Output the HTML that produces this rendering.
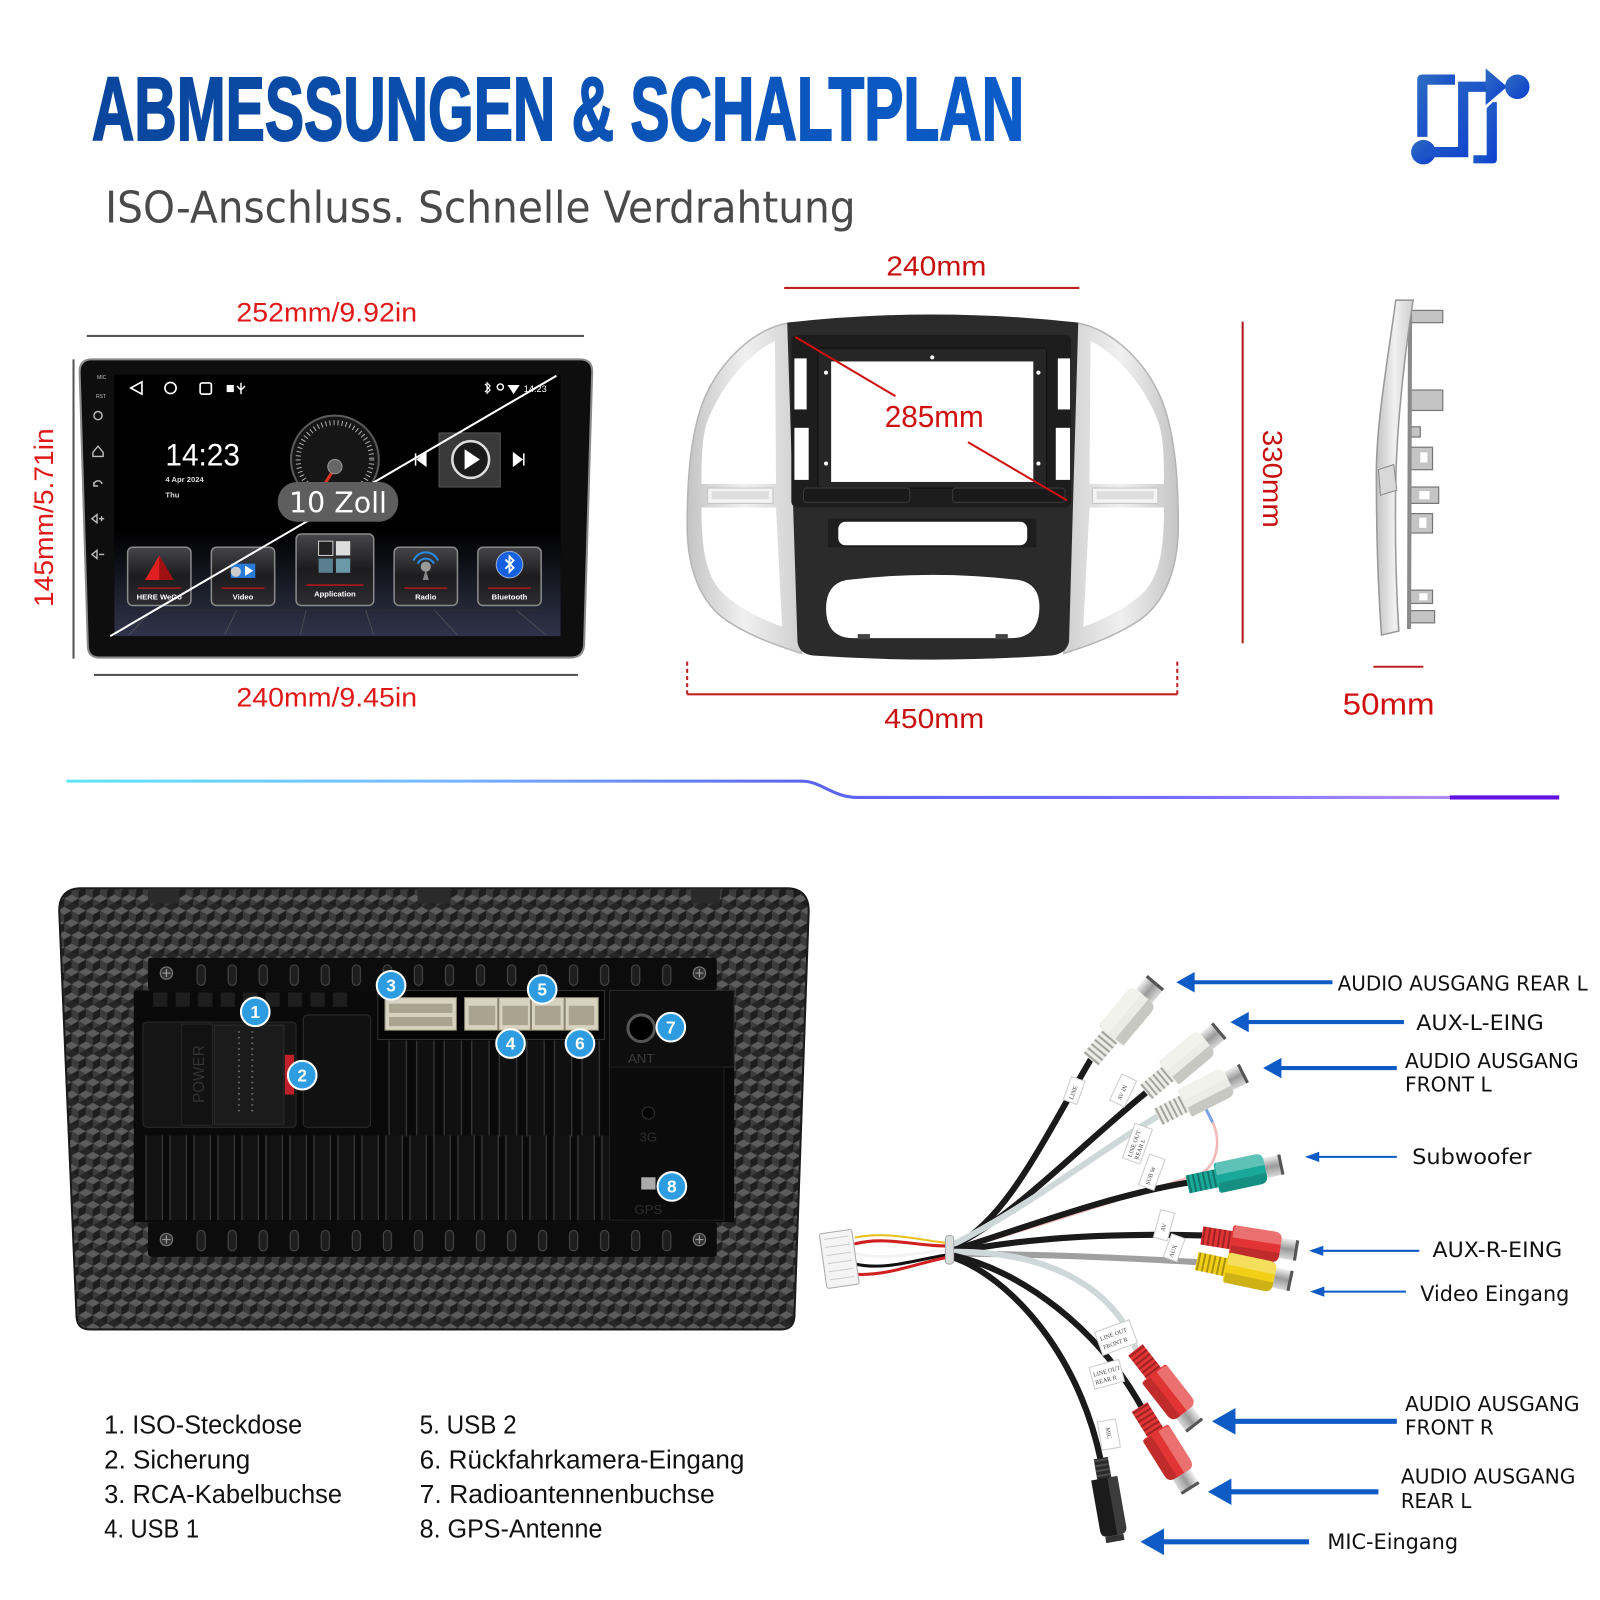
<!DOCTYPE html>
<html><head><meta charset="utf-8"><style>
html,body{margin:0;padding:0;background:#fff;}
svg{display:block;}
</style></head><body>
<svg xmlns="http://www.w3.org/2000/svg" xmlns:xlink="http://www.w3.org/1999/xlink" width="1600" height="1600" viewBox="0 0 1567 1567">
<defs>
 <linearGradient id="tg" x1="90" y1="0" x2="1003" y2="0" gradientUnits="userSpaceOnUse"><stop offset="0" stop-color="#0a469c"/><stop offset="1" stop-color="#0b5cc9"/></linearGradient>
 <linearGradient id="ig" x1="0" y1="0" x2="1" y2="1"><stop offset="0" stop-color="#2f6cc0"/><stop offset="1" stop-color="#0a3fd0"/></linearGradient>
 <linearGradient id="glow" x1="65" y1="0" x2="1527" y2="0" gradientUnits="userSpaceOnUse">
  <stop offset="0" stop-color="#5ee6f7"/><stop offset="0.25" stop-color="#78b8ff"/><stop offset="0.5" stop-color="#5a62f2"/><stop offset="0.75" stop-color="#7a6cff"/><stop offset="0.92" stop-color="#b08cff"/><stop offset="1" stop-color="#8a6aff"/></linearGradient>
 <linearGradient id="floor" x1="0" y1="0" x2="0" y2="1"><stop offset="0" stop-color="#000"/><stop offset="1" stop-color="#30344a"/></linearGradient>
 <linearGradient id="app" x1="0" y1="0" x2="0" y2="1"><stop offset="0" stop-color="#45454a"/><stop offset="0.5" stop-color="#1c1c1e"/><stop offset="1" stop-color="#2c2c32"/></linearGradient>
 <linearGradient id="metal" x1="0" y1="0" x2="0" y2="1"><stop offset="0" stop-color="#f0f0f0"/><stop offset="0.5" stop-color="#9a9a9a"/><stop offset="1" stop-color="#d8d8d8"/></linearGradient>
 <linearGradient id="silver" x1="0" y1="0" x2="1" y2="0"><stop offset="0" stop-color="#c4c4c4"/><stop offset="0.5" stop-color="#f0f0f0"/><stop offset="1" stop-color="#cfcfcf"/></linearGradient>
 <pattern id="cube" x="0" y="0" width="14" height="24" patternUnits="userSpaceOnUse">
  <rect width="14" height="24" fill="#262626"/>
  <path d="M7,0 L14,4 L7,8 L0,4Z" fill="#5c5c5c"/>
  <path d="M0,4 L7,8 L7,16 L0,12Z" fill="#3c3c3c"/>
  <path d="M14,4 L7,8 L7,16 L14,12Z" fill="#1e1e1e"/>
  <path d="M0,12 L7,16 L0,20Z" fill="#5c5c5c"/>
  <path d="M14,12 L7,16 L14,20Z" fill="#5c5c5c"/>
  <path d="M7,16 L7,24 L0,20Z" fill="#1e1e1e"/>
  <path d="M7,16 L7,24 L14,20Z" fill="#3c3c3c"/>
 </pattern>
 <pattern id="fins" x="140" y="0" width="23.5" height="300" patternUnits="userSpaceOnUse">
  <rect x="3" y="0" width="16" height="300" rx="6" fill="#121212" stroke="#3c3c3c" stroke-width="1.2"/>
 </pattern>
 <pattern id="finsM" x="377" y="0" width="27" height="300" patternUnits="userSpaceOnUse">
  <rect x="4" y="0" width="17" height="300" rx="6" fill="#101010" stroke="#383838" stroke-width="1.2"/>
 </pattern>
 <pattern id="slotsT" x="182" y="940" width="30.4" height="30" patternUnits="userSpaceOnUse">
  <rect x="11" y="5" width="8" height="20" rx="4" fill="#1e1e1e" stroke="#4a4a4a" stroke-width="1"/>
 </pattern>
 <pattern id="slotsB" x="182" y="1201" width="30.4" height="30" patternUnits="userSpaceOnUse">
  <rect x="11" y="4" width="8" height="20" rx="4" fill="#1e1e1e" stroke="#4a4a4a" stroke-width="1"/>
 </pattern>
 <g id="rca">
  <rect x="0" y="-9" width="34" height="18" fill="currentColor"/>
  <line x1="1" y1="0" x2="34" y2="0" stroke="#000" stroke-opacity="0.3" stroke-width="18" stroke-dasharray="2 3"/>
  <path d="M32,-15 L70,-15 Q78,-15 78,-7 L78,7 Q78,15 70,15 L32,15 Q29,15 29,12 L29,-12 Q29,-15 32,-15Z" fill="currentColor"/>
  <path d="M32,-15 L70,-15 Q78,-15 78,-7 L78,-3 L30,-3 L30,-12Z" fill="#fff" fill-opacity="0.3"/>
  <path d="M30,15 L70,15 Q78,15 78,7 L78,5 L30,5Z" fill="#000" fill-opacity="0.15"/>
  <rect x="78" y="-10" width="16" height="20" fill="url(#metal)"/>
  <rect x="92" y="-10" width="3" height="20" fill="#555"/>
 </g>
 <g id="jack">
  <rect x="0" y="-7" width="22" height="14" fill="#2a2a2a"/>
  <line x1="1" y1="0" x2="22" y2="0" stroke="#666" stroke-opacity="0.6" stroke-width="14" stroke-dasharray="2 3"/>
  <path d="M20,-13 L70,-13 Q77,-13 77,-6 L77,6 Q77,13 70,13 L20,13Z" fill="#1b1b1b"/>
  <path d="M20,-13 L70,-13 Q77,-13 77,-6 L77,-3 L20,-3Z" fill="#fff" fill-opacity="0.15"/>
  <rect x="77" y="-9" width="6" height="18" fill="#333"/>
 </g>
</defs>

<rect width="1567" height="1567" fill="#fff"/>

<!-- Title -->
<text x="90" y="137" font-family="Liberation Sans, Arial, sans-serif" font-weight="bold" font-size="88" fill="url(#tg)" stroke="url(#tg)" stroke-width="2" textLength="913" lengthAdjust="spacingAndGlyphs">ABMESSUNGEN &amp; SCHALTPLAN</text>
<text x="103" y="218" font-family="DejaVu Sans, Liberation Sans, sans-serif" font-size="43" fill="#4a4a4a" textLength="735" lengthAdjust="spacingAndGlyphs">ISO-Anschluss. Schnelle Verdrahtung</text>

<!-- icon -->
<g fill="url(#ig)">
 <path d="M1393,73 L1425,73 L1425,83 L1398,83 L1398,134 L1388,134 L1388,78 Q1388,73 1393,73Z"/>
 <circle cx="1394" cy="149" r="12"/>
 <path d="M1394,144 L1428,144 L1428,80 L1458,80 L1458,90 L1438,90 L1438,154 L1394,154Z"/>
 <path d="M1455,67 L1476,85 L1455,103Z"/>
 <circle cx="1486" cy="85" r="12"/>
 <path d="M1456,106 L1462,100 L1466,100 L1466,156 Q1466,160 1462,160 L1443,160 L1443,152 L1456,152Z"/>
</g>

<!-- ===== Device top-left ===== -->
<line x1="85" y1="329" x2="572" y2="329" stroke="#555" stroke-width="2"/>
<text x="320" y="315" text-anchor="middle" font-family="Liberation Sans, Arial, sans-serif" font-size="26" fill="#e01818" textLength="177" lengthAdjust="spacingAndGlyphs">252mm/9.92in</text>
<line x1="72" y1="352" x2="72" y2="645" stroke="#555" stroke-width="2"/>
<text transform="translate(52,507) rotate(-90)" text-anchor="middle" font-family="Liberation Sans, Arial, sans-serif" font-size="26" fill="#e01818" textLength="175" lengthAdjust="spacingAndGlyphs">145mm/5.71in</text>
<line x1="92" y1="661" x2="566" y2="661" stroke="#555" stroke-width="2"/>
<text x="320" y="692" text-anchor="middle" font-family="Liberation Sans, Arial, sans-serif" font-size="26" fill="#e01818" textLength="177" lengthAdjust="spacingAndGlyphs">240mm/9.45in</text>

<path d="M90,352 L568,352 Q580,352 580,364 L572,632 Q571,644 559,644 L97,644 Q86,644 86,632 L78,364 Q78,352 90,352Z" fill="#0e0e0e" stroke="#8a8a8a" stroke-width="2"/>
<rect x="112" y="367" width="437" height="256" fill="#000"/>
<rect x="112" y="520" width="437" height="103" fill="url(#floor)"/>
<!-- side buttons -->
<g fill="none" stroke="#bbb" stroke-width="1.4">
 <text x="95" y="371" font-family="Liberation Sans, sans-serif" font-size="5" fill="#bbb" stroke="none">MIC</text>
 <text x="94" y="390" font-family="Liberation Sans, sans-serif" font-size="5" fill="#bbb" stroke="none">RST</text>
 <circle cx="96" cy="407" r="4"/>
 <path d="M91,443 L96,437 L101,443 L101,447 L91,447Z"/>
 <path d="M100,474 A4,4 0 1 0 92,476 M92,472 L92,476 L96,476"/>
 <path d="M90,508 L95,504 L95,512Z M97,508 L102,508 M99.5,505.5 L99.5,510.5"/>
 <path d="M90,543 L95,539 L95,547Z M97,543 L102,543"/>
</g>
<!-- status bar -->
<g fill="none" stroke="#fff" stroke-width="1.6">
 <polygon points="139,374 128,380 139,386"/>
 <circle cx="167" cy="380" r="5.5"/>
 <rect x="196" y="375" width="11" height="11" rx="2"/>
</g>
<rect x="222" y="377" width="7" height="7" fill="#fff"/>
<path d="M236,375 L236,386 M232,378 L236,382 L240,378" stroke="#fff" stroke-width="1.4" fill="none"/>
<path d="M475,376 L480,382 L477,385 L477,375 L480,378 L475,384" stroke="#fff" stroke-width="1.1" fill="none"/>
<circle cx="490" cy="379" r="3" fill="none" stroke="#fff" stroke-width="1.4"/>
<path d="M497,377 L509,377 L503,386Z" fill="#fff"/>
<text x="513" y="384" font-family="Liberation Sans, sans-serif" font-size="9" fill="#fff">14:23</text>
<!-- clock -->
<text x="162" y="456" font-family="Liberation Sans, Arial, sans-serif" font-size="31" fill="#fff" textLength="73" lengthAdjust="spacingAndGlyphs">14:23</text>
<text x="162" y="472" font-family="Liberation Sans, sans-serif" font-size="7.5" font-weight="bold" fill="#ddd">4 Apr 2024</text>
<text x="162" y="487" font-family="Liberation Sans, sans-serif" font-size="7.5" font-weight="bold" fill="#ddd">Thu</text>
<!-- gauge -->
<circle cx="328" cy="450" r="43" fill="#161616" stroke="#5a5a5a" stroke-width="2"/>
<circle cx="328" cy="450" r="36" fill="none" stroke="#aaa" stroke-width="5" stroke-dasharray="1 3"/>
<line x1="328" y1="458" x2="318" y2="474" stroke="#e03020" stroke-width="3"/>
<circle cx="328" cy="457" r="7" fill="#666" stroke="#999"/>
<!-- media -->
<path d="M417,444 L409,450 L417,456Z M407,444 L407,456" fill="#fff" stroke="#fff" stroke-width="1.5"/>
<rect x="430" y="424" width="60" height="53" fill="#3a3a3a" stroke="#555"/>
<circle cx="461" cy="450" r="18" fill="#1a1a1a" stroke="#ddd" stroke-width="2.5"/>
<polygon points="455,440 470,450 455,460" fill="#fff"/>
<path d="M503,444 L511,450 L503,456Z M513,444 L513,456" fill="#fff" stroke="#fff" stroke-width="1.5"/>
<!-- apps -->
<g stroke="#8a8a8a" stroke-width="1.5" fill="url(#app)">
 <rect x="125" y="536" width="62" height="57" rx="5"/>
 <rect x="207" y="536" width="62" height="57" rx="5"/>
 <rect x="290" y="523" width="76" height="70" rx="5"/>
 <rect x="386" y="536" width="62" height="57" rx="5"/>
 <rect x="468" y="536" width="62" height="57" rx="5"/>
</g>
<polygon points="156,544 142,568 170,568" fill="#e02020"/>
<polygon points="156,544 156,568 170,568" fill="#a01010"/>
<rect x="226" y="552" width="24" height="14" fill="#2a7ad8"/>
<circle cx="231" cy="560" r="5" fill="#ccc"/>
<polygon points="240,554 248,559 240,564" fill="#fff"/>
<rect x="312" y="530" width="14" height="14" fill="#222" stroke="#ccc"/>
<rect x="329" y="530" width="14" height="14" fill="#ddd"/>
<rect x="312" y="547" width="14" height="14" fill="#5a8090"/>
<rect x="329" y="547" width="14" height="14" fill="#6a9aa8"/>
<path d="M409,552 A9,9 0 0 1 425,552 M405,549 A13,13 0 0 1 429,549" fill="none" stroke="#2a8ae0" stroke-width="2"/>
<circle cx="417" cy="555" r="5" fill="#999"/>
<path d="M417,558 L414,568 L420,568Z" fill="#888"/>
<circle cx="499" cy="553" r="13" fill="#1560e0" stroke="#9ac" stroke-width="1"/>
<path d="M495,548 L503,556 L499,560 L499,545 L503,549 L495,557" stroke="#fff" stroke-width="1.8" fill="none"/>
<g stroke="#b01818" stroke-width="1.5">
 <line x1="135" y1="576" x2="177" y2="576"/><line x1="217" y1="576" x2="259" y2="576"/>
 <line x1="300" y1="573" x2="356" y2="573"/><line x1="396" y1="576" x2="438" y2="576"/>
 <line x1="478" y1="576" x2="520" y2="576"/>
</g>
<g font-family="Liberation Sans, sans-serif" font-size="7.5" font-weight="bold" fill="#fff" text-anchor="middle">
 <text x="156" y="587">HERE WeGo</text><text x="238" y="587">Video</text><text x="328" y="584">Application</text>
 <text x="417" y="587">Radio</text><text x="499" y="587">Bluetooth</text>
</g>
<g stroke="#4a4a52" stroke-width="1">
 <line x1="150" y1="597" x2="126" y2="622"/><line x1="232" y1="597" x2="220" y2="622"/>
 <line x1="300" y1="597" x2="294" y2="622"/><line x1="358" y1="597" x2="366" y2="622"/>
 <line x1="425" y1="597" x2="448" y2="622"/><line x1="505" y1="597" x2="535" y2="622"/>
 <line x1="130" y1="598" x2="530" y2="598" stroke="#2c2c34"/>
</g>
<line x1="108" y1="623" x2="545" y2="368" stroke="#fff" stroke-width="2"/>
<rect x="272" y="472" width="118" height="39" rx="19" fill="#5e5e5e"/>
<text x="331" y="502" text-anchor="middle" font-family="DejaVu Sans, Liberation Sans, sans-serif" font-size="28" fill="#fff" textLength="96" lengthAdjust="spacingAndGlyphs">10 Zoll</text>

<!-- ===== Middle frame ===== -->
<text x="917" y="270" text-anchor="middle" font-family="Liberation Sans, Arial, sans-serif" font-size="27" fill="#c81010" textLength="98" lengthAdjust="spacingAndGlyphs">240mm</text>
<line x1="768" y1="282" x2="1057" y2="282" stroke="#c02020" stroke-width="2"/>

<g id="leftarm">
 <path d="M776,316 C745,318 705,350 688,395 C676,428 673,470 673,515 C673,560 688,592 712,608 C735,623 760,632 785,640 L785,316Z" fill="url(#silver)" stroke="#b5b5b5" stroke-width="1.5"/>
 <path d="M759,334 C735,345 705,378 692,415 C688,428 687,445 687,474 L760,474Z" fill="#fff"/>
 <path d="M687,497 L760,497 L766,614 C745,606 720,594 705,578 C692,562 687,540 687,497Z" fill="#fff"/>
 <rect x="693" y="478" width="64" height="15" fill="#f4f4f4" stroke="#c4c4c4"/>
 <rect x="697" y="481" width="56" height="8" fill="#dedede"/>
</g>
<use href="#leftarm" xlink:href="#leftarm" transform="matrix(-1,0,0,1,1827,0)"/>

<path d="M771,316 Q913,300 1056,316 L1047,628 Q1045,640 1030,642 Q913,650 796,642 Q782,640 781,628 Z" fill="#2b2b2b"/>
<rect x="775" y="328" width="274" height="169" rx="6" fill="#1d1d1d"/>
<rect x="801" y="341" width="224" height="137" rx="3" fill="#262626" stroke="#111"/>
<rect x="814" y="354" width="198" height="118" fill="#fff"/>
<g fill="#fff"><circle cx="809" cy="365" r="2"/><circle cx="1017" cy="365" r="2"/><circle cx="809" cy="454" r="2"/><circle cx="1017" cy="454" r="2"/><circle cx="913" cy="350" r="2"/>
 <rect x="778" y="351" width="12" height="50"/><rect x="778" y="419" width="14" height="51"/>
 <rect x="1036" y="351" width="12" height="50"/><rect x="1034" y="419" width="14" height="51"/></g>
<rect x="787" y="478" width="104" height="14" rx="3" fill="#1a1a1a" stroke="#3a3a3a"/>
<rect x="933" y="478" width="110" height="14" rx="3" fill="#1a1a1a" stroke="#3a3a3a"/>
<rect x="811" y="508" width="204" height="28" fill="#1e1e1e"/>
<rect x="821" y="511" width="185" height="23" rx="7" fill="#fff"/>
<path d="M829,568 Q913,558 998,568 Q1018,572 1018,594 Q1018,625 990,625 L836,625 Q809,625 809,596 Q809,572 829,568Z" fill="#fff"/>
<rect x="840" y="621" width="12" height="5" fill="#444"/><rect x="975" y="621" width="12" height="5" fill="#444"/>
<line x1="779" y1="330" x2="877" y2="388" stroke="#d01010" stroke-width="2"/>
<line x1="948" y1="433" x2="1045" y2="490" stroke="#d01010" stroke-width="2"/>
<text x="915" y="418" text-anchor="middle" font-family="Liberation Sans, Arial, sans-serif" font-size="30" fill="#d01010" textLength="97" lengthAdjust="spacingAndGlyphs">285mm</text>

<line x1="673" y1="648" x2="673" y2="680" stroke="#c02020" stroke-width="2" stroke-dasharray="4 3"/>
<line x1="1153" y1="648" x2="1153" y2="680" stroke="#c02020" stroke-width="2" stroke-dasharray="4 3"/>
<line x1="673" y1="680" x2="1153" y2="680" stroke="#c02020" stroke-width="2"/>
<text x="915" y="713" text-anchor="middle" font-family="Liberation Sans, Arial, sans-serif" font-size="27" fill="#c81010" textLength="98" lengthAdjust="spacingAndGlyphs">450mm</text>

<line x1="1217" y1="315" x2="1217" y2="630" stroke="#b01818" stroke-width="2"/>
<text transform="translate(1237,469) rotate(90)" text-anchor="middle" font-family="Liberation Sans, Arial, sans-serif" font-size="27" fill="#c81010" textLength="96" lengthAdjust="spacingAndGlyphs">330mm</text>

<!-- side view -->
<g stroke="#777" stroke-width="1.2" fill="#c4c4c4">
 <rect x="1381" y="304" width="32" height="12"/><rect x="1381" y="382" width="32" height="20"/>
 <rect x="1381" y="418" width="10" height="10"/><rect x="1381" y="438" width="22" height="22"/>
 <rect x="1381" y="477" width="28" height="16"/><rect x="1381" y="503" width="22" height="19"/>
 <rect x="1381" y="578" width="22" height="13"/><rect x="1381" y="598" width="24" height="12"/>
</g>
<g fill="#fff"><rect x="1391" y="443" width="7" height="10"/><rect x="1390" y="481" width="10" height="8"/><rect x="1390" y="507" width="7" height="10"/><rect x="1390" y="581" width="8" height="7"/></g>
<line x1="1381" y1="298" x2="1380" y2="616" stroke="#8a8a8a" stroke-width="4"/>
<path d="M1367,294 C1358,360 1347,420 1348,470 C1348,530 1350,580 1353,622 L1370,618 C1367,570 1366,520 1367,470 C1368,420 1375,350 1384,294 Z" fill="url(#silver)" stroke="#999" stroke-width="1.5"/>
<path d="M1350,460 L1365,455 L1368,480 L1352,485Z" fill="#d8d8d8" stroke="#888"/>
<line x1="1345" y1="653" x2="1394" y2="653" stroke="#c02020" stroke-width="2"/>
<text x="1360" y="700" text-anchor="middle" font-family="Liberation Sans, Arial, sans-serif" font-size="30" fill="#d01010" textLength="90" lengthAdjust="spacingAndGlyphs">50mm</text>

<!-- gradient divider -->
<path d="M65,765 L785,765 C805,765 815,781 840,781 L1527,781" fill="none" stroke="url(#glow)" stroke-width="3"/>
<line x1="1420" y1="781" x2="1527" y2="781" stroke="#6010e0" stroke-width="4"/>

<!-- ===== Back panel ===== -->
<path d="M80,870 L770,870 Q792,870 792,892 L778,1290 Q777,1302 765,1302 L88,1302 Q76,1302 75,1290 L58,892 Q58,870 80,870Z" fill="url(#cube)" stroke="#1a1a1a" stroke-width="2"/>
<g fill="#2a2a2a"><rect x="145" y="870" width="30" height="15"/><rect x="409" y="870" width="32" height="15"/><rect x="677" y="870" width="28" height="15"/></g>
<rect x="145" y="938" width="557" height="32" rx="3" fill="#0c0c0c"/>
<rect x="182" y="940" width="487" height="30" fill="url(#slotsT)"/>
<rect x="131" y="970" width="588" height="227" fill="#0a0a0a"/>
<rect x="145" y="1197" width="557" height="34" rx="3" fill="#0c0c0c"/>
<rect x="182" y="1201" width="487" height="30" fill="url(#slotsB)"/>
<g fill="#333" stroke="#777" stroke-width="1.2">
 <circle cx="163" cy="953" r="6"/><circle cx="685" cy="953" r="6"/><circle cx="163" cy="1214" r="6"/><circle cx="685" cy="1214" r="6"/>
</g>
<g stroke="#999" stroke-width="1.2">
 <path d="M159,953 L167,953 M163,949 L163,957 M681,953 L689,953 M685,949 L685,957 M159,1214 L167,1214 M163,1210 L163,1218 M681,1214 L689,1214 M685,1210 L685,1218"/>
</g>
<!-- ridges above iso -->
<g fill="#1e1e1e"><rect x="150" y="972" width="14" height="14"/><rect x="172" y="972" width="14" height="14"/><rect x="194" y="972" width="14" height="14"/><rect x="216" y="972" width="14" height="14"/><rect x="238" y="972" width="14" height="14"/><rect x="260" y="972" width="14" height="14"/><rect x="282" y="972" width="14" height="14"/><rect x="304" y="972" width="14" height="14"/><rect x="326" y="972" width="14" height="14"/></g>
<!-- ISO socket -->
<rect x="140" y="1001" width="150" height="103" rx="4" fill="#151515" stroke="#2c2c2c"/>
<rect x="178" y="1003" width="30" height="99" fill="#121212" stroke="#262626"/>
<text transform="translate(200,1052) rotate(-90)" text-anchor="middle" font-family="Liberation Sans, sans-serif" font-size="15" fill="#333">POWER</text>
<rect x="210" y="1004" width="68" height="97" fill="#1b1b1b" stroke="#2c2c2c"/>
<line x1="234" y1="1010" x2="234" y2="1092" stroke="#666" stroke-width="2" stroke-dasharray="1.5 4"/>
<line x1="247" y1="1010" x2="247" y2="1092" stroke="#666" stroke-width="2" stroke-dasharray="1.5 4"/>
<rect x="279" y="1033" width="9" height="39" fill="#c0202a"/>
<rect x="297" y="994" width="66" height="110" rx="4" fill="#111" stroke="#2c2c2c"/>
<!-- fins -->
<rect x="377" y="1019" width="215" height="94" fill="url(#finsM)"/>
<rect x="140" y="1112" width="457" height="83" fill="url(#fins)"/>
<!-- connectors -->
<rect x="370" y="970" width="222" height="48" fill="#050505" stroke="#333"/>
<rect x="377" y="977" width="70" height="32" fill="#d8d2c0" stroke="#8a8470"/>
<rect x="381" y="983" width="62" height="9" fill="#a9a390"/><rect x="381" y="996" width="62" height="9" fill="#a9a390"/>
<rect x="455" y="977" width="131" height="32" fill="#d8d2c0" stroke="#8a8470"/>
<g fill="#a9a390"><rect x="459" y="985" width="26" height="19"/><rect x="492" y="985" width="25" height="19"/><rect x="524" y="985" width="25" height="19"/><rect x="557" y="985" width="25" height="19"/></g>
<g stroke="#8a8470" stroke-width="2"><line x1="488" y1="977" x2="488" y2="1009"/><line x1="520" y1="977" x2="520" y2="1009"/><line x1="553" y1="977" x2="553" y2="1009"/></g>
<!-- ANT / GPS -->
<rect x="597" y="970" width="122" height="75" fill="#0e0e0e" stroke="#2a2a2a"/>
<circle cx="628" cy="1007" r="13" fill="#000" stroke="#555" stroke-width="3"/>
<text x="628" y="1041" text-anchor="middle" font-family="Liberation Sans, sans-serif" font-size="13" fill="#3a3a3a">ANT</text>
<rect x="597" y="1045" width="112" height="150" fill="#0b0b0b" stroke="#222"/>
<circle cx="635" cy="1090" r="6" fill="#000" stroke="#333"/>
<text x="635" y="1118" text-anchor="middle" font-family="Liberation Sans, sans-serif" font-size="13" fill="#2e2e2e">3G</text>
<rect x="628" y="1153" width="14" height="12" fill="#aaa"/>
<text x="635" y="1189" text-anchor="middle" font-family="Liberation Sans, sans-serif" font-size="13" fill="#2e2e2e">GPS</text>
<!-- badges -->
<g font-family="Liberation Sans, Arial, sans-serif" font-size="17" font-weight="bold" fill="#fff" text-anchor="middle">
 <circle cx="250" cy="991" r="14" fill="#2e9ce0" stroke="#fff" stroke-width="2"/><text x="250" y="997">1</text>
 <circle cx="296" cy="1053" r="14" fill="#2e9ce0" stroke="#fff" stroke-width="2"/><text x="296" y="1059">2</text>
 <circle cx="383" cy="965" r="14" fill="#2e9ce0" stroke="#fff" stroke-width="2"/><text x="383" y="971">3</text>
 <circle cx="500" cy="1022" r="14" fill="#2e9ce0" stroke="#fff" stroke-width="2"/><text x="500" y="1028">4</text>
 <circle cx="531" cy="969" r="14" fill="#2e9ce0" stroke="#fff" stroke-width="2"/><text x="531" y="975">5</text>
 <circle cx="568" cy="1022" r="14" fill="#2e9ce0" stroke="#fff" stroke-width="2"/><text x="568" y="1028">6</text>
 <circle cx="657" cy="1006" r="14" fill="#2e9ce0" stroke="#fff" stroke-width="2"/><text x="657" y="1012">7</text>
 <circle cx="658" cy="1162" r="14" fill="#2e9ce0" stroke="#fff" stroke-width="2"/><text x="658" y="1168">8</text>
</g>

<!-- Legend -->
<g font-family="Liberation Sans, Arial, sans-serif" font-size="25" fill="#111">
 <text x="102" y="1404" textLength="194" lengthAdjust="spacingAndGlyphs">1. ISO-Steckdose</text>
 <text x="102" y="1438" textLength="143" lengthAdjust="spacingAndGlyphs">2. Sicherung</text>
 <text x="102" y="1472" textLength="233" lengthAdjust="spacingAndGlyphs">3. RCA-Kabelbuchse</text>
 <text x="102" y="1506" textLength="93" lengthAdjust="spacingAndGlyphs">4. USB 1</text>
 <text x="411" y="1404" textLength="95" lengthAdjust="spacingAndGlyphs">5. USB 2</text>
 <text x="411" y="1438" textLength="318" lengthAdjust="spacingAndGlyphs">6. Rückfahrkamera-Eingang</text>
 <text x="411" y="1472" textLength="289" lengthAdjust="spacingAndGlyphs">7. Radioantennenbuchse</text>
 <text x="411" y="1506" textLength="179" lengthAdjust="spacingAndGlyphs">8. GPS-Antenne</text>
</g>

<!-- ===== Harness ===== -->
<g fill="none" stroke-linecap="round">
 <path d="M838,1218 C870,1210 900,1222 935,1220" stroke="#d02020" stroke-width="3"/>
 <path d="M838,1228 C870,1235 900,1226 935,1224" stroke="#f4f4f4" stroke-width="3"/>
 <path d="M838,1238 C870,1245 900,1232 935,1228" stroke="#111" stroke-width="3"/>
 <path d="M838,1248 C870,1250 900,1236 935,1230" stroke="#d02020" stroke-width="3"/>
 <path d="M838,1212 C870,1205 905,1216 935,1218" stroke="#e8c020" stroke-width="2"/>
 <path d="M935,1220 C985,1195 1020,1120 1068,1038" stroke="#1a1a1a" stroke-width="6"/>
 <path d="M935,1220 C995,1190 1060,1120 1125,1068" stroke="#1a1a1a" stroke-width="6"/>
 <path d="M935,1218 C1010,1180 1080,1125 1136,1092" stroke="#cfd8d8" stroke-width="6"/>
 <path d="M935,1225 C1020,1200 1110,1170 1175,1150 C1195,1140 1195,1112 1187,1098" stroke="#f0b8b8" stroke-width="2.5"/>
 <path d="M1187,1098 L1180,1084" stroke="#7aa0e0" stroke-width="3"/>
 <path d="M935,1224 C1010,1200 1090,1170 1165,1158" stroke="#1a1a1a" stroke-width="6"/>
 <path d="M935,1226 C1020,1210 1100,1208 1177,1210" stroke="#1a1a1a" stroke-width="6"/>
 <path d="M935,1228 C1020,1228 1100,1232 1172,1236" stroke="#a0a0a0" stroke-width="6"/>
 <path d="M935,1226 C1030,1225 1095,1265 1113,1323" stroke="#cfd8d8" stroke-width="6"/>
 <path d="M935,1230 C1000,1245 1075,1300 1118,1378" stroke="#1a1a1a" stroke-width="6"/>
 <path d="M935,1232 C985,1250 1055,1320 1078,1430" stroke="#1a1a1a" stroke-width="6"/>
</g>
<rect x="806" y="1206" width="32" height="54" rx="2" fill="#f4f4f4" stroke="#aaa" transform="rotate(-8 822 1233)"/>
<g stroke="#ccc" stroke-width="1" transform="rotate(-8 822 1233)"><line x1="810" y1="1212" x2="834" y2="1212"/><line x1="810" y1="1220" x2="834" y2="1220"/><line x1="810" y1="1228" x2="834" y2="1228"/><line x1="810" y1="1236" x2="834" y2="1236"/><line x1="810" y1="1244" x2="834" y2="1244"/><line x1="810" y1="1252" x2="834" y2="1252"/></g>
<rect x="926" y="1210" width="8" height="28" rx="3" fill="#d8dcdc" stroke="#aaa"/>

<use href="#rca" xlink:href="#rca" transform="translate(1068,1038) rotate(-50) scale(1.05)" style="color:#ecece6"/>
<use href="#rca" xlink:href="#rca" transform="translate(1122,1070) rotate(-40)" style="color:#ecece6"/>
<use href="#rca" xlink:href="#rca" transform="translate(1134,1094) rotate(-27)" style="color:#ecece6"/>
<use href="#rca" xlink:href="#rca" transform="translate(1163,1160) rotate(-12)" style="color:#1aa89a"/>
<use href="#rca" xlink:href="#rca" transform="translate(1177,1210) rotate(9)" style="color:#e23434"/>
<use href="#rca" xlink:href="#rca" transform="translate(1172,1235) rotate(12)" style="color:#f2d018"/>
<use href="#rca" xlink:href="#rca" transform="translate(1112,1322) rotate(52)" style="color:#e23434"/>
<use href="#rca" xlink:href="#rca" transform="translate(1116,1378) rotate(58)" style="color:#e23434"/>
<use href="#jack" xlink:href="#jack" transform="translate(1078,1428) rotate(80)"/>

<g font-family="Liberation Serif, serif" font-size="6" fill="#444">
 <g transform="translate(1052,1068) rotate(-70)"><rect x="-12" y="-7" width="24" height="14" fill="#fff" stroke="#ccc"/><text x="-9" y="2">LINE</text></g>
 <g transform="translate(1100,1068) rotate(-65)"><rect x="-14" y="-8" width="28" height="16" fill="#fff" stroke="#ccc"/><text x="-10" y="2">AV IN</text></g>
 <g transform="translate(1114,1120) rotate(-70)"><rect x="-18" y="-9" width="36" height="18" fill="#fff" stroke="#ccc"/><text x="-15" y="-1">LINE OUT</text><text x="-15" y="6">REAR L</text></g>
 <g transform="translate(1128,1148) rotate(-70)"><rect x="-16" y="-8" width="32" height="16" fill="#fff" stroke="#ccc"/><text x="-13" y="2">SUB W</text></g>
 <g transform="translate(1140,1200) rotate(-75)"><rect x="-14" y="-7" width="28" height="14" fill="#fff" stroke="#ccc"/><text x="-6" y="2">AV</text></g>
 <g transform="translate(1150,1222) rotate(-70)"><rect x="-12" y="-7" width="24" height="14" fill="#fff" stroke="#ccc"/><text x="-10" y="2">AUX</text></g>
 <g transform="translate(1093,1310) rotate(-20)"><rect x="-18" y="-12" width="36" height="24" fill="#fff" stroke="#ccc"/><text x="-15" y="-2">LINE OUT</text><text x="-15" y="7">FRONT R</text></g>
 <g transform="translate(1084,1346) rotate(-15)"><rect x="-15" y="-11" width="30" height="22" fill="#fff" stroke="#ccc"/><text x="-13" y="-1">LINE OUT</text><text x="-13" y="7">REAR R</text></g>
 <g transform="translate(1086,1405) rotate(80)"><rect x="-14" y="-9" width="28" height="18" fill="#fff" stroke="#ccc"/><text x="-7" y="2">MIC</text></g>
</g>

<!-- arrows -->
<g stroke="#0f5bc5" fill="#0f5bc5">
 <line x1="1305" y1="962" x2="1168" y2="962" stroke-width="4"/><polygon points="1152,962 1170,952 1170,972" stroke="none"/>
 <line x1="1375" y1="1001" x2="1221" y2="1001" stroke-width="4"/><polygon points="1205,1001 1223,991 1223,1011" stroke="none"/>
 <line x1="1368" y1="1046" x2="1253" y2="1046" stroke-width="4"/><polygon points="1237,1046 1255,1036 1255,1056" stroke="none"/>
 <line x1="1368" y1="1133" x2="1290" y2="1133" stroke-width="2"/><polygon points="1278,1133 1292,1128 1292,1138" stroke="none"/>
 <line x1="1390" y1="1225" x2="1294" y2="1225" stroke-width="2"/><polygon points="1282,1225 1296,1220 1296,1230" stroke="none"/>
 <line x1="1377" y1="1265" x2="1295" y2="1265" stroke-width="2"/><polygon points="1283,1265 1297,1260 1297,1270" stroke="none"/>
 <line x1="1368" y1="1392" x2="1207" y2="1392" stroke-width="5"/><polygon points="1187,1392 1210,1379 1210,1405" stroke="none"/>
 <line x1="1350" y1="1461" x2="1203" y2="1461" stroke-width="5"/><polygon points="1183,1461 1206,1448 1206,1474" stroke="none"/>
 <line x1="1282" y1="1510" x2="1137" y2="1510" stroke-width="5"/><polygon points="1117,1510 1140,1497 1140,1523" stroke="none"/>
</g>
<g font-family="DejaVu Sans, Liberation Sans, sans-serif" fill="#111">
 <text x="1310" y="970" font-size="20" textLength="245" lengthAdjust="spacingAndGlyphs">AUDIO AUSGANG REAR L</text>
 <text x="1387" y="1009" font-size="21" textLength="125" lengthAdjust="spacingAndGlyphs">AUX-L-EING</text>
 <text x="1376" y="1046" font-size="20" textLength="170" lengthAdjust="spacingAndGlyphs">AUDIO AUSGANG</text>
 <text x="1376" y="1069" font-size="20" textLength="85" lengthAdjust="spacingAndGlyphs">FRONT L</text>
 <text x="1383" y="1140" font-size="21" textLength="117" lengthAdjust="spacingAndGlyphs">Subwoofer</text>
 <text x="1403" y="1231" font-size="21" textLength="127" lengthAdjust="spacingAndGlyphs">AUX-R-EING</text>
 <text x="1391" y="1274" font-size="21" textLength="146" lengthAdjust="spacingAndGlyphs">Video Eingang</text>
 <text x="1376" y="1382" font-size="20" textLength="171" lengthAdjust="spacingAndGlyphs">AUDIO AUSGANG</text>
 <text x="1376" y="1405" font-size="20" textLength="87" lengthAdjust="spacingAndGlyphs">FRONT R</text>
 <text x="1372" y="1453" font-size="20" textLength="171" lengthAdjust="spacingAndGlyphs">AUDIO AUSGANG</text>
 <text x="1372" y="1477" font-size="20" textLength="69" lengthAdjust="spacingAndGlyphs">REAR L</text>
 <text x="1300" y="1517" font-size="21" textLength="128" lengthAdjust="spacingAndGlyphs">MIC-Eingang</text>
</g>
</svg>
</body></html>
